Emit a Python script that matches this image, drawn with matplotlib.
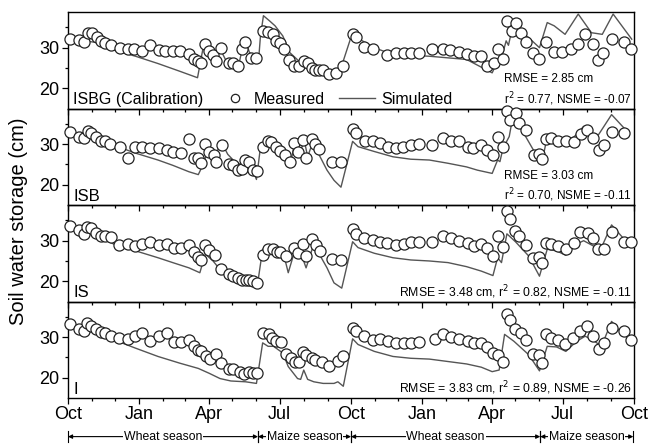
import matplotlib
matplotlib.use("Agg")
import matplotlib.pyplot as plt
from matplotlib.ticker import FixedLocator

plt.rcParams['font.family'] = ['Liberation Sans', 'DejaVu Sans']

# x values: days after 1 October of the first year
month_ticks = [0, 92, 182, 273, 365, 457, 547, 638, 730]
month_labels = ['Oct', 'Jan', 'Apr', 'Jul', 'Oct', 'Jan', 'Apr', 'Jul', 'Oct']
minor_months = [0, 31, 61, 92, 123, 151, 182, 212, 243, 273, 304, 335,
                365, 396, 426, 457, 488, 516, 547, 577, 608, 638, 669, 700, 730]

panel_names = ['ISBG (Calibration)', 'ISB', 'IS', 'I']
stats_texts = ['RMSE = 2.85 cm\nr$^2$ = 0.77, NSME = -0.07',
               'RMSE = 3.03 cm\nr$^2$ = 0.70, NSME = -0.11',
               'RMSE = 3.48 cm, r$^2$ = 0.82, NSME = -0.11',
               'RMSE = 3.83 cm, r$^2$ = 0.89, NSME = -0.26']

# ---- ISBG ----
isbg_meas_x = [3, 14, 20, 26, 31, 37, 42, 48, 56, 67, 77, 85, 96, 106, 117, 125, 135, 145,
               156, 162, 167, 172, 176, 182, 187, 191, 197, 208, 213, 219, 224, 228, 236, 242,
               252, 258, 264, 268, 274, 279, 285, 291, 298, 304, 309, 315, 319, 324, 329, 336,
               345, 355, 367, 371, 382, 393, 412, 423, 433, 442, 452, 470, 483, 492, 504, 514,
               523, 532, 540, 549, 554, 561, 566, 573, 578, 584, 591, 600, 608, 617, 627, 637,
               649, 658, 667, 677, 684, 690, 701, 717, 726]
isbg_meas_y = [32.2, 31.8, 31.4, 33.6, 33.6, 32.7, 31.7, 31.2, 30.6, 30.0, 29.8, 29.8, 29.2, 30.6,
               29.4, 29.3, 29.3, 29.1, 28.5, 27.3, 26.7, 26.3, 30.8, 29.2, 28.3, 26.7, 30.0, 26.3,
               26.3, 25.4, 29.6, 31.3, 27.5, 27.5, 34.2, 33.9, 33.3, 31.7, 31.2, 29.8, 26.9, 25.4,
               25.4, 26.7, 26.3, 25.0, 24.6, 24.6, 24.4, 23.6, 23.8, 25.4, 33.3, 32.7, 30.2, 29.8,
               28.1, 28.6, 28.8, 28.6, 28.8, 29.6, 29.6, 29.4, 28.9, 28.5, 27.9, 27.9, 25.4, 26.3,
               29.8, 27.1, 36.7, 34.2, 36.1, 33.6, 31.3, 28.8, 27.3, 31.3, 28.9, 28.9, 29.8, 31.0,
               33.3, 30.8, 26.9, 28.6, 32.1, 31.3, 29.6]
isbg_sim_x = [1, 21, 40, 59, 87, 116, 144, 167, 175, 182, 189, 196, 203, 215, 220, 225, 229,
              234, 241, 246, 248, 252, 260, 267, 277, 286, 300, 324, 343, 352, 367, 376, 395,
              419, 466, 514, 547, 554, 561, 565, 568, 574, 582, 594, 608, 618, 627, 641, 658,
              675, 689, 703, 727]
isbg_sim_y = [32.5, 31.7, 31.2, 29.4, 27.9, 26.1, 24.2, 22.6, 30.8, 29.2, 27.9, 29.8, 27.1, 25.4,
              25.6, 30.0, 31.7, 28.8, 27.9, 27.5, 32.5, 37.9, 36.6, 35.4, 32.9, 28.8, 26.3, 24.6,
              23.4, 25.0, 33.8, 32.1, 30.0, 28.3, 27.9, 27.1, 23.8, 26.7, 28.8, 31.7, 30.6, 35.8,
              34.2, 32.5, 30.0, 36.2, 35.4, 33.3, 38.3, 33.7, 33.3, 38.3, 32.1]

# ---- ISB ----
isb_meas_x = [3, 14, 20, 26, 30, 36, 42, 48, 54, 67, 77, 86, 96, 106, 117, 127, 136, 146, 156,
              162, 167, 172, 176, 182, 188, 191, 199, 208, 213, 219, 224, 228, 234, 239, 244,
              251, 258, 262, 268, 274, 280, 286, 291, 297, 303, 307, 315, 319, 324, 341, 352,
              367, 371, 383, 393, 402, 413, 423, 432, 442, 452, 470, 484, 494, 504, 516, 522,
              532, 540, 548, 555, 561, 566, 570, 578, 582, 590, 601, 608, 611, 617, 623, 632,
              642, 652, 662, 669, 677, 685, 691, 701, 717]
isb_meas_y = [33.0, 31.9, 31.5, 33.2, 32.8, 31.9, 30.8, 30.7, 30.0, 29.4, 26.7, 29.4, 29.2, 29.0,
              29.0, 28.6, 28.2, 27.8, 31.3, 26.5, 26.5, 25.3, 30.0, 28.2, 27.3, 25.5, 29.8, 25.0,
              24.8, 23.6, 23.8, 26.1, 25.5, 23.6, 23.3, 29.2, 30.8, 30.5, 29.2, 28.3, 27.3, 25.5,
              30.3, 28.2, 31.1, 26.5, 31.3, 30.0, 28.8, 25.7, 25.7, 33.8, 32.8, 30.8, 30.8, 30.4,
              29.4, 29.0, 29.4, 29.7, 30.0, 29.7, 31.5, 30.8, 30.7, 29.4, 29.0, 29.8, 28.6, 27.3,
              31.9, 29.2, 38.3, 36.0, 37.7, 35.2, 33.6, 27.3, 27.5, 26.3, 31.3, 31.5, 30.8, 30.7,
              30.5, 32.5, 33.6, 31.5, 28.6, 29.7, 33.0, 32.8]
isb_sim_x = [1, 21, 40, 64, 87, 116, 135, 156, 168, 175, 180, 187, 191, 197, 206, 215, 225, 232,
             239, 243, 248, 255, 262, 272, 279, 286, 291, 298, 305, 309, 316, 324, 334, 343, 352,
             367, 374, 395, 419, 442, 466, 490, 514, 528, 547, 554, 557, 561, 569, 573, 585, 604,
             611, 618, 630, 642, 653, 665, 672, 684, 701, 717]
isb_sim_y = [33.2, 31.9, 30.8, 29.4, 27.8, 26.1, 24.8, 23.2, 22.5, 25.3, 28.6, 27.3, 27.3, 30.8,
             27.5, 25.7, 24.8, 24.4, 23.2, 21.3, 29.0, 31.5, 31.5, 29.0, 28.2, 24.2, 29.2, 27.8,
             30.7, 26.9, 30.7, 27.3, 23.6, 21.1, 19.4, 30.7, 29.4, 28.2, 26.9, 26.3, 26.1, 25.3,
             24.4, 23.6, 22.8, 26.1, 25.7, 29.0, 31.9, 36.1, 33.6, 27.3, 25.3, 31.9, 30.7, 30.7,
             31.9, 34.4, 32.8, 32.3, 37.3, 34.0]

# ---- IS ----
is_meas_x = [3, 14, 20, 25, 30, 36, 42, 48, 55, 66, 77, 86, 96, 106, 117, 127, 137, 146, 156,
             162, 167, 172, 177, 182, 190, 197, 207, 213, 219, 225, 229, 234, 239, 244, 252, 258,
             264, 270, 274, 281, 291, 296, 303, 307, 315, 320, 325, 341, 352, 367, 371, 382, 393,
             402, 412, 423, 433, 442, 452, 470, 483, 494, 504, 516, 523, 532, 540, 548, 555, 561,
             566, 570, 577, 582, 590, 600, 607, 611, 617, 623, 632, 642, 652, 660, 670, 677, 684,
             691, 701, 717, 726]
is_meas_y = [33.75, 32.75, 31.7, 33.3, 33.1, 31.9, 31.25, 31.1, 30.8, 28.9, 29.2, 28.75, 29.2,
             29.6, 28.9, 29.2, 28.3, 28.3, 28.9, 27.1, 26.1, 25.25, 28.9, 27.7, 26.4, 22.9, 21.7,
             21.25, 20.8, 20.4, 20.4, 20.25, 20.0, 19.6, 26.4, 27.9, 27.9, 27.25, 27.1, 26.25,
             28.3, 26.9, 29.2, 26.25, 30.4, 28.9, 27.5, 25.6, 25.2, 32.9, 31.7, 30.6, 30.25, 29.75,
             29.4, 28.9, 29.2, 29.6, 29.75, 29.6, 31.25, 30.6, 30.0, 29.4, 28.75, 29.2, 28.1,
             26.25, 31.25, 28.5, 37.25, 35.4, 32.5, 31.1, 28.9, 25.8, 26.1, 24.6, 29.4, 29.2, 28.6,
             27.9, 29.4, 32.1, 31.9, 30.6, 27.9, 27.9, 32.25, 29.75, 29.6]
is_sim_x = [1, 21, 40, 64, 87, 116, 135, 156, 170, 177, 187, 196, 206, 220, 234, 244, 251, 258,
            267, 277, 284, 293, 300, 307, 317, 324, 334, 343, 353, 367, 374, 395, 419, 442, 466,
            490, 514, 533, 548, 554, 559, 566, 577, 594, 608, 618, 630, 642, 656, 665, 677, 686,
            701, 717]
is_sim_y = [33.9, 32.1, 30.8, 28.75, 27.5, 25.8, 24.6, 23.3, 22.1, 26.7, 25.0, 22.9, 21.1, 19.6,
            18.9, 18.75, 27.9, 28.3, 28.1, 27.5, 22.1, 27.9, 27.1, 23.3, 29.2, 26.7, 23.3, 19.6,
            18.3, 29.75, 28.3, 26.9, 25.8, 25.25, 25.0, 24.6, 23.6, 22.5, 21.4, 25.8, 24.6, 31.7,
            29.75, 26.25, 21.25, 27.9, 27.5, 26.4, 29.2, 30.0, 28.75, 27.5, 33.9, 30.4]

# ---- I ----
i_meas_x = [3, 14, 20, 25, 30, 36, 42, 48, 55, 66, 77, 86, 96, 106, 117, 127, 137, 146, 156,
            162, 168, 172, 178, 183, 191, 197, 208, 213, 222, 227, 233, 239, 244, 252, 259, 263,
            268, 275, 281, 287, 293, 298, 303, 307, 314, 319, 328, 337, 348, 355, 367, 371, 382,
            393, 402, 413, 423, 433, 442, 452, 473, 483, 494, 504, 516, 523, 532, 540, 548, 555,
            561, 566, 570, 577, 584, 590, 600, 607, 611, 617, 623, 632, 641, 651, 660, 669, 677,
            685, 691, 701, 717, 726]
i_meas_y = [33.2, 32.1, 31.5, 33.4, 32.75, 31.9, 31.25, 31.1, 30.4, 29.8, 29.6, 30.25, 31.0,
            29.0, 30.4, 31.0, 28.75, 28.75, 29.25, 27.75, 26.9, 26.5, 25.4, 24.6, 25.9, 23.6,
            22.1, 22.1, 21.5, 20.9, 21.5, 21.25, 21.25, 31.1, 30.9, 29.8, 29.0, 28.75, 25.9,
            24.8, 24.0, 24.0, 26.25, 25.7, 24.8, 24.4, 24.0, 22.9, 24.25, 25.25, 32.3, 31.5,
            30.25, 29.25, 29.6, 29.0, 28.6, 28.6, 28.6, 28.75, 29.6, 30.7, 30.1, 29.6, 29.0, 28.6,
            28.6, 27.6, 26.1, 25.7, 24.0, 35.7, 34.25, 32.1, 31.1, 29.4, 25.9, 25.7, 23.6, 30.9,
            29.8, 29.4, 28.4, 29.8, 31.5, 32.75, 30.25, 27.1, 28.6, 32.3, 31.5, 29.4]
i_sim_x = [1, 21, 40, 64, 87, 116, 144, 168, 182, 196, 210, 229, 243, 251, 258, 265, 277, 284,
           296, 300, 304, 309, 317, 329, 343, 348, 355, 367, 374, 395, 419, 442, 466, 490, 514,
           533, 547, 556, 563, 575, 594, 608, 618, 630, 642, 656, 667, 679, 688, 701, 717]
i_sim_y = [33.6, 31.9, 30.7, 29.0, 27.3, 25.25, 23.6, 22.3, 21.1, 19.8, 19.2, 19.0, 18.6, 28.6,
           27.75, 27.75, 26.1, 22.75, 19.8, 19.6, 21.9, 19.6, 19.0, 18.6, 18.6, 19.0, 17.9, 29.6,
           28.2, 26.5, 25.25, 24.8, 24.6, 24.0, 23.4, 22.6, 21.5, 21.9, 30.7, 29.0, 25.7, 21.7,
           27.75, 27.6, 26.5, 29.0, 30.25, 29.0, 27.75, 33.9, 30.25]

meas_x = [isbg_meas_x, isb_meas_x, is_meas_x, i_meas_x]
meas_y = [isbg_meas_y, isb_meas_y, is_meas_y, i_meas_y]
sim_x = [isbg_sim_x, isb_sim_x, is_sim_x, i_sim_x]
sim_y = [isbg_sim_y, isb_sim_y, is_sim_y, i_sim_y]

seasons = [('Wheat season', 0, 245), ('Maize season', 245, 365),
           ('Wheat season', 365, 609), ('Maize season', 609, 729)]

fig = plt.figure(figsize=(6.51, 4.46), dpi=100)
gs = fig.add_gridspec(4, 1, left=0.1045, right=0.974, top=0.973, bottom=0.1076, hspace=0)
axes = [fig.add_subplot(gs[i]) for i in range(4)]

sim_color = '#555555'
for i, ax in enumerate(axes):
    ax.patch.set_visible(False)
    ax.plot(sim_x[i], sim_y[i], color=sim_color, lw=1.0, zorder=2)
    ax.plot(meas_x[i], meas_y[i], linestyle='none', marker='o', ms=8, mfc='white',
            mec='#222222', mew=0.9, zorder=3, clip_on=False)
    ax.set_xlim(0, 730)
    ax.set_ylim(15, 38.8)
    ax.yaxis.set_major_locator(FixedLocator([20, 30]))
    ax.yaxis.set_minor_locator(FixedLocator([25, 35]))
    ax.xaxis.set_major_locator(FixedLocator(month_ticks))
    ax.xaxis.set_minor_locator(FixedLocator(minor_months))
    ax.tick_params(axis='both', which='major', direction='out', length=4, width=0.9,
                   labelsize=13, pad=2)
    ax.tick_params(axis='both', which='minor', direction='out', length=2.5, width=0.9)
    ax.tick_params(axis='x', top=False)
    if i < 3:
        ax.tick_params(axis='x', labelbottom=False)
    else:
        ax.set_xticklabels(month_labels)
    for s in ax.spines.values():
        s.set_linewidth(1.0)
    ax.text(0.009, 0.015, panel_names[i], transform=ax.transAxes,
            fontsize=11.5 if i == 0 else 12, ha='left', va='bottom')
    ax.text(0.996, 0.01, stats_texts[i], transform=ax.transAxes,
            fontsize=8.5 if i < 2 else 8.8, ha='right', va='bottom',
            multialignment='left', linespacing=1.35)

# legend drawn in the first panel
ax0 = axes[0]
leg_y = 0.11
ax0.plot([0.295], [leg_y], transform=ax0.transAxes, linestyle='none', marker='o', ms=6,
         mfc='white', mec='#222222', mew=0.9, clip_on=False)
ax0.text(0.3286, 0.015, 'Measured', transform=ax0.transAxes, fontsize=11.5,
         ha='left', va='bottom')
ax0.plot([0.479, 0.543], [leg_y, leg_y], transform=ax0.transAxes, color=sim_color, lw=1.0,
         clip_on=False)
ax0.text(0.553, 0.015, 'Simulated', transform=ax0.transAxes, fontsize=11.5,
         ha='left', va='bottom')

fig.text(0.028, 0.505, 'Soil water storage (cm)', rotation=90, fontsize=14.5,
         ha='center', va='center')

ax = axes[3]
yb = -0.40
for name, x0, x1 in seasons:
    ax.annotate('', xy=(x0, yb), xytext=(x1, yb), xycoords=('data', 'axes fraction'),
                textcoords=('data', 'axes fraction'), annotation_clip=False,
                arrowprops=dict(arrowstyle='<|-|>', color='black', lw=0.8,
                                mutation_scale=6, shrinkA=0, shrinkB=0))
    for xx in (x0, x1):
        ax.plot([xx, xx], [yb - 0.06, yb + 0.06], color='black', lw=0.8,
                transform=ax.get_xaxis_transform(), clip_on=False)
    ax.text((x0 + x1) / 2, yb, name, transform=ax.get_xaxis_transform(), fontsize=8.8,
            ha='center', va='center',
            bbox=dict(facecolor='white', edgecolor='none', pad=0.5))

fig.savefig('out.png', dpi=100)
